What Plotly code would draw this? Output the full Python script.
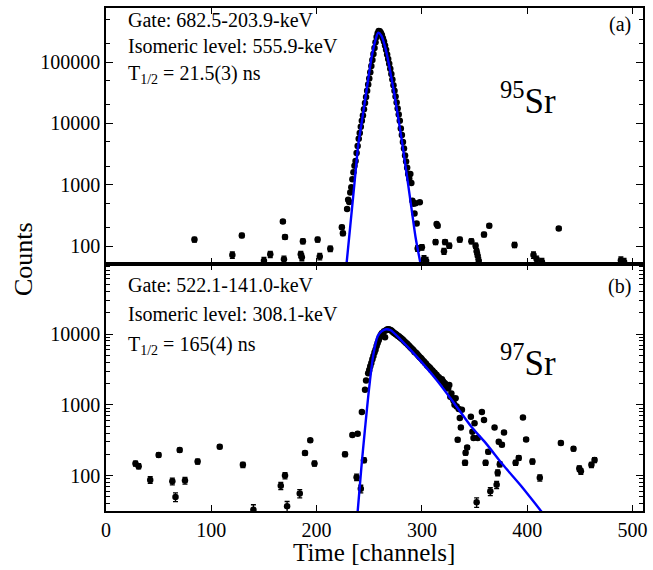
import numpy as np
import plotly.graph_objects as go

# ---------------- Panel (a): 95Sr ----------------
a_ch = [84, 120, 129, 150, 156, 168, 169, 170, 185, 186, 187, 201, 203, 213,
        224, 225, 229, 230, 231, 232, 233, 234, 235, 236, 237, 238, 239, 240,
        241, 242, 243, 244, 245, 246, 247, 248, 249, 250, 251, 252, 253, 254,
        255, 256, 257, 258, 259, 260, 261, 262, 263, 264, 265, 266, 267, 268,
        269, 270, 271, 272, 273, 274, 275, 276, 277, 278, 279, 280, 281, 282,
        283, 284, 285, 286, 287, 288, 289, 290, 291, 292, 293, 294, 295, 296,
        298, 300, 302, 304,
        313, 314, 315, 321, 322, 326, 336, 347, 351, 352, 353, 354, 359, 364,
        388, 406, 409, 414, 430, 489, 492]
a_counts = [128, 72, 150, 58, 74, 252, 61, 141, 74, 66, 120, 128, 68, 91,
            204, 162, 405, 570, 525, 750, 910, 1230, 1600, 2050, 2450, 3300, 4300, 5600,
            7000, 8800, 11000, 13500, 17000, 21500, 27000, 34000, 43000, 54000, 68000, 86000, 108000, 135000,
            170000, 210000, 255000, 295000, 320000, 318000, 300000, 275000, 245000, 215000, 185000, 158000, 133000, 112000,
            94000, 78000, 64000, 52000, 42000, 34000, 27500, 22000, 17500, 14000, 11000, 8300, 6500, 5000,
            3900, 3000, 2400, 1900, 1500, 1250, 1500, 1070, 550, 490, 340, 500, 235, 92,
            520, 96, 62, 58,
            117, 230, 215, 83, 117, 102, 128, 120, 102, 83, 70, 58, 155, 215,
            105, 72, 61, 56, 195, 59, 56]
a_fit_ch = [228.6, 232, 236, 239.6, 242.5, 245.9, 249, 252.2, 255.5, 258.5, 261.5,
            265, 268, 271, 274, 277.5, 281, 284, 287, 290, 294, 298.8]
a_fit = [55, 215, 1070, 4500, 9500, 23000, 52000, 117000, 215000, 300000, 270000,
         178000, 105000, 56000, 29000, 12500, 5200, 2300, 1000, 430, 140, 51]

# ---------------- Panel (b): 97Sr ----------------
b_ch = [28, 31, 42, 50, 63, 66, 70, 75, 87, 108, 130, 140, 166, 170, 172, 184,
        189, 194, 198, 227, 234, 238, 239, 242, 243, 245, 246, 247,
        249, 250, 251, 252, 253, 254, 255, 256, 257, 258, 259, 260, 261, 262,
        263, 264, 265, 266, 267, 268, 269, 270, 271, 272, 273, 274, 275, 276,
        277, 278, 279, 280, 281, 282, 283, 284, 285, 286, 287, 288, 289, 290,
        291, 292, 293, 294, 295, 296, 297, 298, 299, 300, 301, 302, 303, 304,
        305, 306, 307, 308, 309, 310, 311, 312, 313, 314, 315, 316, 317, 318,
        319, 320, 321, 322, 323, 324, 325, 326, 327, 328, 329, 330, 331, 332,
        333, 334, 335, 336, 337, 338,
        341, 341.5, 343, 346.5, 348, 349, 350, 352, 353, 357, 359, 360.5, 363,
        365, 369, 371, 372, 373, 374, 376, 378, 389, 392, 396, 399, 405, 412,
        432, 444, 449.5, 451, 461, 464]
b_counts = [148, 136, 87, 196, 83, 50, 230, 85, 158, 256, 142, 33, 72, 100, 37, 56,
            208, 316, 148, 200, 375, 95, 390, 65, 790, 165, 1630, 2200,
            2800, 3100, 3500, 3900, 4400, 4900, 5500, 6000, 6800, 7500, 8200, 9000, 9700, 10300,
            10200, 11000, 9000, 11300, 11600, 11700, 11600, 11400, 11200, 10900, 10500, 10300, 10000, 9800,
            9500, 9300, 9000, 8800, 8500, 8300, 8000, 7700, 7500, 7300, 7000, 6800, 6500, 6300,
            6100, 5900, 5600, 5500, 5300, 5100, 4900, 4700, 4600, 4400, 4200, 4100, 3900, 3800,
            3600, 3500, 3400, 3300, 3100, 3050, 2900, 2850, 2700, 2650, 2500, 2450, 2350, 2250,
            2300, 2150, 2050, 2000, 1850, 1800, 1700, 1900, 1300, 1450, 1250, 1150, 1000, 1240,
            950, 320, 870, 650, 480, 850,
            152, 210, 250, 680, 415, 340, 550, 42, 340, 790, 610, 152, 218,
            60, 480, 74, 110, 300, 145, 274, 408, 152, 178, 660, 325, 158, 93,
            290, 240, 126, 115, 142, 166]
b_fit_ch = [239, 242.5, 246, 250, 254, 258, 262, 266, 270, 280, 294, 314, 327, 347,
            360.5, 377, 393.7, 413.6]
b_fit = [31, 129, 460, 1780, 5200, 9300, 11000, 11700, 11400, 8300, 5000, 2250, 1250,
         490, 290, 142, 73, 31]

# ---------------- geometry helpers ----------------
W, H = 653, 570
ML, MR, MT, MB = 106, 6, 7, 59
PW, PH = W - ML - MR, H - MT - MB


def px(x):
    return (x - ML) / PW


def py(y):
    return (H - MB - y) / PH


split = py(263.5)
FONT = "'Liberation Serif', 'Times New Roman', 'DejaVu Serif', serif"
BLUE = "#0000ff"

fig = go.Figure()


def add_panel(ch, counts, fch, fval, xa, ya):
    fig.add_trace(go.Scatter(
        x=ch, y=counts, mode="markers", xaxis=xa, yaxis=ya,
        marker=dict(color="black", size=6.5, symbol="circle"),
        error_y=dict(type="data", array=list(np.sqrt(np.array(counts, float))),
                     color="black", thickness=1.3, width=2.5),
        showlegend=False, cliponaxis=True))
    fig.add_trace(go.Scatter(
        x=fch, y=fval, mode="lines", xaxis=xa, yaxis=ya,
        line=dict(color=BLUE, width=2.4, shape="spline", smoothing=0.8),
        showlegend=False))


add_panel(a_ch, a_counts, a_fit_ch, a_fit, "x", "y")
add_panel(b_ch, b_counts, b_fit_ch, b_fit, "x2", "y2")

axis_common = dict(showline=True, linecolor="black", linewidth=1.6, mirror="ticks",
                   ticks="inside", tickcolor="black", tickwidth=1.2, showgrid=False,
                   zeroline=False, tickfont=dict(family=FONT, size=20, color="black"))

fig.update_layout(
    width=W, height=H, margin=dict(l=ML, r=MR, t=MT, b=MB, pad=0),
    paper_bgcolor="white", plot_bgcolor="white",
    font=dict(family=FONT, color="black"),
    xaxis=dict(axis_common, domain=[0, 1], anchor="y", range=[0, 510], ticklen=6,
               tickvals=[0, 100, 200, 300, 400, 500], showticklabels=False, matches="x2"),
    yaxis=dict(axis_common, domain=[split, 1], anchor="x", type="log", range=[1.71, 5.88],
               tickvals=[100, 1000, 10000, 100000], ticktext=["100", "1000", "10000", "100000"],
               ticklen=7,
               minor=dict(ticks="inside", ticklen=4, tickcolor="black", tickwidth=1, dtick="D2")),
    xaxis2=dict(axis_common, domain=[0, 1], anchor="y2", range=[0, 510], ticklen=6,
                tickvals=[0, 100, 200, 300, 400, 500], ticktext=["0", "100", "200", "300", "400", "500"]),
    yaxis2=dict(axis_common, domain=[0, split], anchor="x2", type="log", range=[1.5, 4.99],
                tickvals=[100, 1000, 10000], ticktext=["100", "1000", "10000"], ticklen=7,
                minor=dict(ticks="inside", ticklen=4, tickcolor="black", tickwidth=1, dtick="D1")),
)

ann = []


def text(x, y, s, size=20, xanchor="left", yanchor="middle"):
    ann.append(dict(x=px(x), y=py(y), xref="paper", yref="paper", text=s, showarrow=False,
                    xanchor=xanchor, yanchor=yanchor,
                    font=dict(family=FONT, size=size, color="black")))


text(126, 19, "Gate: 682.5-203.9-keV")
text(126, 45, "Isomeric level: 555.9-keV")
text(126, 74, "T<sub>1/2</sub> = 21.5(3) ns")
text(637, 24, "(a)", xanchor="right")
text(531, 98, "<sup>95</sup>Sr", size=35, xanchor="center")

text(126, 285, "Gate: 522.1-141.0-keV")
text(126, 314, "Isomeric level: 308.1-keV")
text(126, 345, "T<sub>1/2</sub> = 165(4) ns")
text(637, 286, "(b)", xanchor="right")
text(531, 360, "<sup>97</sup>Sr", size=35, xanchor="center")

text(376, 553, "Time [channels]", size=25, xanchor="center")
ann.append(dict(x=px(23), y=py(259), xref="paper", yref="paper", text="Counts", showarrow=False,
                textangle=-90, xanchor="center", yanchor="middle",
                font=dict(family=FONT, size=26, color="black")))

fig.update_layout(annotations=ann)
fig.write_html("out.html")
